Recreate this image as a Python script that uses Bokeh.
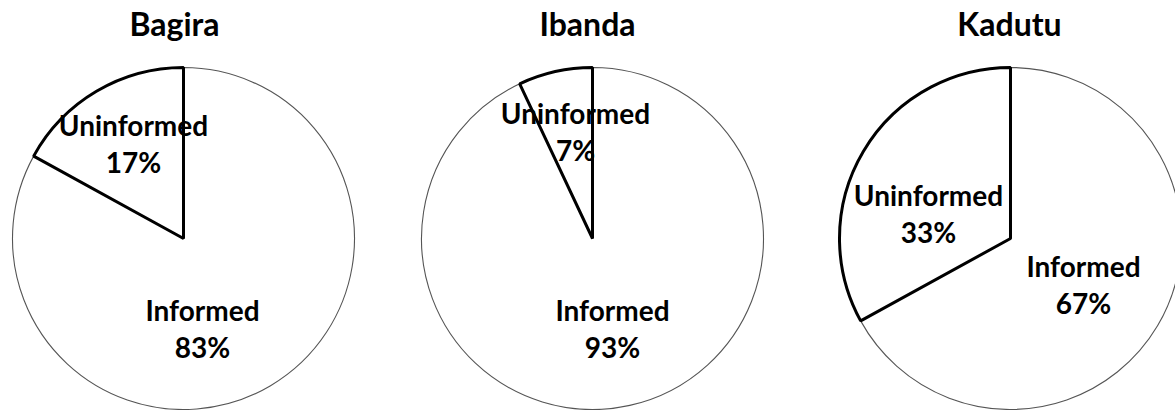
import math

from bokeh.plotting import figure
from bokeh.models import Range1d, ColumnDataSource
from bokeh.core.properties import value
from bokeh.embed import file_html
from bokeh.resources import INLINE

# Share of respondents per district
districts = ["Bagira", "Ibanda", "Kadutu"]
categories = ["Uninformed", "Informed"]
uninformed_pct = [17, 7, 33]
informed_pct = [83, 93, 67]

# Page layout (pixels, measured from the top-left corner)
W, H = 1175, 410
pie_cx = [183, 592, 1010]
pie_cy = 238
pie_r = 171
title_x = [174, 587, 1009]
title_y = 23
line_gap = 37
# centre of each two-line label, as an offset from its pie's centre
uninf_label_off = [(-50, -95), (-17, -107), (-82, -25)]
inf_label_off = [(19, 90), (20, 90), (73, 46)]

FONT = value("Lato")


def ypx(y):
    """Convert a top-down pixel row into the upward data axis."""
    return H - y


p = figure(width=W, height=H, x_range=Range1d(0, W), y_range=Range1d(0, H),
           x_axis_type=None, y_axis_type=None, output_backend="svg",
           toolbar_location=None, min_border=0)
p.grid.visible = False
p.outline_line_color = None
p.background_fill_color = "white"
p.border_fill_color = "white"

# Slices start at 12 o'clock; the uninformed share runs counter-clockwise.
start_u = [math.pi / 2] * len(districts)
end_u = [math.pi / 2 + 2 * math.pi * u / 100 for u in uninformed_pct]
start_i = end_u
end_i = [s + 2 * math.pi * i / 100 for s, i in zip(start_i, informed_pct)]

inf_src = ColumnDataSource(dict(x=pie_cx, y=[ypx(pie_cy)] * 3, start=start_i, end=end_i))
uninf_src = ColumnDataSource(dict(x=pie_cx, y=[ypx(pie_cy)] * 3, start=start_u, end=end_u))

p.wedge(x="x", y="y", radius=pie_r, radius_units="screen", start_angle="start",
        end_angle="end", direction="anticlock", source=inf_src,
        fill_color="white", line_color="#555555", line_width=1.1)
p.wedge(x="x", y="y", radius=pie_r, radius_units="screen", start_angle="start",
        end_angle="end", direction="anticlock", source=uninf_src,
        fill_color="white", line_color="black", line_width=3)

# Titles
p.text(x=title_x, y=[ypx(title_y)] * 3, text=districts, text_font=FONT,
       text_font_style="bold", text_font_size="32px", text_color="black",
       text_align="center", text_baseline="middle")

# Slice labels: category name above, percentage below
lx, ly, lt = [], [], []
for k in range(len(districts)):
    for off, name, pct in ((uninf_label_off[k], categories[0], uninformed_pct[k]),
                           (inf_label_off[k], categories[1], informed_pct[k])):
        cx = pie_cx[k] + off[0]
        cy = pie_cy + off[1]
        lx += [cx, cx]
        ly += [ypx(cy - line_gap / 2), ypx(cy + line_gap / 2)]
        lt += [name, f"{pct}%"]

p.text(x=lx, y=ly, text=lt, text_font=FONT, text_font_style="bold",
       text_font_size="28px", text_color="black", text_align="center",
       text_baseline="middle")

open("out.html", "w").write(file_html(p, INLINE))
